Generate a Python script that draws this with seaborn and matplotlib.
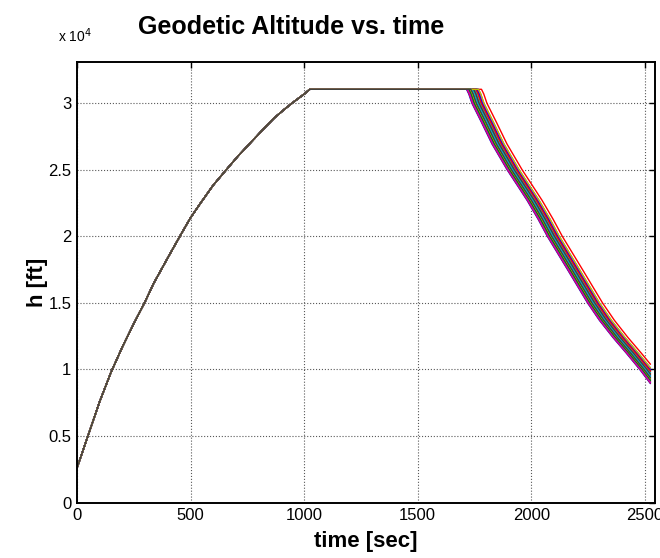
import numpy as np
import pandas as pd
import matplotlib
matplotlib.use("Agg")
import matplotlib.pyplot as plt
import seaborn as sns

# ---- data ----
climb_t = [0, 50, 100, 150, 200, 250, 300, 337, 400, 456, 500, 544, 600, 662, 710, 765, 820,
           869, 910, 950, 1001, 1025]
climb_h = [2600, 5100, 7600, 9800, 11700, 13450, 15100, 16450, 18400, 20100, 21400, 22500,
           23850, 25100, 26050, 27050, 28050, 28900, 29500, 30050, 30700, 31050]

desc_t = [1715, 1725, 1739, 1780, 1827, 1894, 1940, 1982, 2030, 2071, 2160, 2248, 2300, 2360,
          2420, 2478, 2540, 2600]
desc_h = [31050, 30700, 30000, 28600, 26950, 25000, 23800, 22700, 21300, 20000, 17500, 15000,
          13700, 12400, 11200, 10000, 8600, 7200]

# descent-start delay of each run [sec]
run_delay = [12, 35, 66, 5, 48, 22, 40, 0, 30, 45, 15, 44, 8, 26, 52, 18, 38, 3, 47, 28, 10,
             46, 20, 33, 50, 6, 42, 14, 25, 43, 2, 37, 48, 16, 31, 45, 9, 41, 24, 4, 53, 19]
t_end = 2525

x_ticks = [0, 500, 1000, 1500, 2000, 2500]
y_ticks = [0, 5000, 10000, 15000, 20000, 25000, 30000]
y_tick_labels = ["0", "0.5", "1", "1.5", "2", "2.5", "3"]

matlab_cycle = [(0, 0, 1), (0, 0.5, 0), (1, 0, 0), (0, 0.75, 0.75),
                (0.75, 0, 0.75), (0.75, 0.75, 0), (0.25, 0.25, 0.25)]

# ---- build long table ----
rows = []
for i, d in enumerate(run_delay):
    t = np.concatenate([climb_t, np.array(desc_t) + d]).astype(float)
    h = np.concatenate([climb_h, desc_h]).astype(float)
    keep = t < t_end
    h_end = np.interp(t_end, t, h)
    t = np.append(t[keep], t_end)
    h = np.append(h[keep], h_end)
    for tt, hh in zip(t, h):
        rows.append((i, tt, hh))
df = pd.DataFrame(rows, columns=["run", "t", "h"])
palette = [matlab_cycle[i % 7] for i in range(len(run_delay))]

# ---- plot ----
sns.set_style("white")
plt.rcParams["font.family"] = ["Liberation Sans", "DejaVu Sans"]
plt.rcParams["text.color"] = "black"
plt.rcParams["axes.labelcolor"] = "black"

fig = plt.figure(figsize=(6.6, 5.58), dpi=100)
ax = fig.add_axes([77 / 660, 1 - 502.6 / 558, (655 - 77) / 660, (502.6 - 62) / 558])

sns.lineplot(data=df, x="t", y="h", hue="run", palette=palette, legend=False,
             estimator=None, sort=False, linewidth=1.0, ax=ax)

ax.set_xlim(0, 2545)
ax.set_ylim(0, 33100)
ax.set_xticks(x_ticks)
ax.set_xticklabels([str(v) for v in x_ticks])
ax.set_yticks(y_ticks)
ax.set_yticklabels(y_tick_labels)
ax.tick_params(direction="in", length=4, width=1, top=True, right=True,
               labelsize=12, colors="black", pad=4)
ax.grid(True, color="0.35", linestyle=":", linewidth=0.8)
for s in ax.spines.values():
    s.set_color("black")
    s.set_linewidth(1.4)

ax.set_xlabel("time [sec]", fontsize=16, fontweight="bold", labelpad=6)
ax.set_ylabel("h [ft]", fontsize=16, fontweight="bold", labelpad=0)
fig.text(291 / 660, 1 - 34 / 558, "Geodetic Altitude vs. time", fontsize=18,
         fontweight="bold", ha="center", va="baseline")
fig.text(58 / 660, 1 - 42 / 558, r"x 10$^{4}$", fontsize=10, ha="left", va="baseline")

fig.savefig("out.png", dpi=100)
